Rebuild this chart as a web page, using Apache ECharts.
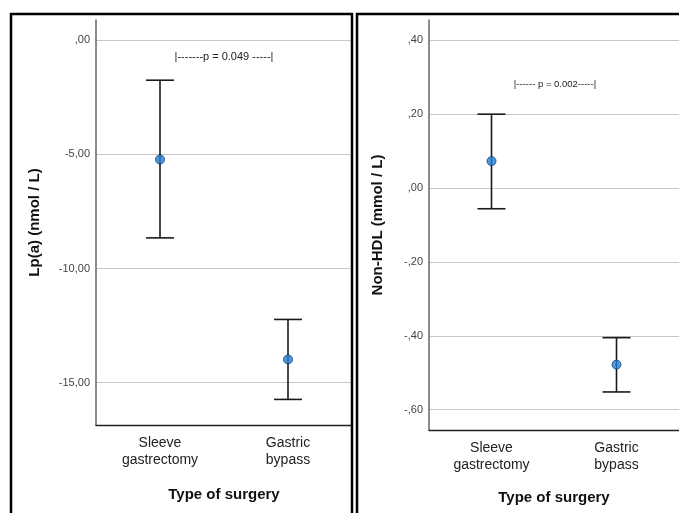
<!DOCTYPE html>
<html>
<head>
<meta charset="utf-8">
<script src="https://cdn.jsdelivr.net/npm/echarts@6/dist/echarts.min.js"></script>
<style>
  html, body { margin: 0; padding: 0; background: #fff; }
  #main { width: 679px; height: 513px; }
</style>
</head>
<body>
<div id="main"></div>
<script>
// categories
var categories = ["Sleeve\ngastrectomy", "Gastric\nbypass"];

// Lp(a) panel: mean and 95% CI per category
var lpaMean = [-5.23, -13.98];
var lpaLow = [-8.66, -15.73];
var lpaHigh = [-1.76, -12.23];
var lpaTicks = [0, -5, -10, -15];

// Non-HDL panel
var hdlMean = [0.073, -0.478];
var hdlLow = [-0.056, -0.552];
var hdlHigh = [0.20, -0.405];
var hdlTicks = [0.4, 0.2, 0, -0.2, -0.4, -0.6];

var pTexts = ["|-------p = 0.049 -----|", "|------ p = 0.002-----|"];

// SPSS style label: ",00" / "-5,00"
function spssFmt(v) {
  var s = Math.abs(v).toFixed(2).replace(".", ",");
  if (s.indexOf("0,") === 0) s = s.slice(1);
  return (v < 0 ? "-" : "") + s;
}

function errorBars(low, high) {
  return low.map(function (l, i) { return [i, l, high[i]]; });
}

function renderBar(params, api) {
  var x = api.value(0);
  var lo = api.coord([x, api.value(1)]);
  var hi = api.coord([x, api.value(2)]);
  var half = 14;
  var style = { stroke: "#1a1a1a", lineWidth: 1.6 };
  return {
    type: "group",
    children: [
      { type: "line", shape: { x1: lo[0], y1: lo[1], x2: hi[0], y2: hi[1] }, style: style },
      { type: "line", shape: { x1: lo[0] - half, y1: lo[1], x2: lo[0] + half, y2: lo[1] }, style: style },
      { type: "line", shape: { x1: hi[0] - half, y1: hi[1], x2: hi[0] + half, y2: hi[1] }, style: style }
    ]
  };
}

var fontFam = "'Liberation Sans', Arial, sans-serif";

function xAxisOf(gridIndex, gap) {
  return {
    type: "category",
    gridIndex: gridIndex,
    data: categories,
    name: "Type of surgery",
    nameLocation: "middle",
    nameGap: gap,
    nameTextStyle: { fontFamily: fontFam, fontSize: 15, fontWeight: "bold", color: "#111" },
    axisLine: { onZero: false, lineStyle: { color: "#222", width: 1.3 } },
    axisTick: { show: false },
    axisLabel: { fontFamily: fontFam, fontSize: 14, color: "#222", margin: 10, lineHeight: 17 },
    splitLine: { show: false }
  };
}

function yAxisOf(gridIndex, name, min, max, ticks, gap) {
  return {
    type: "value",
    gridIndex: gridIndex,
    min: min,
    max: max,
    name: name,
    nameLocation: "middle",
    nameGap: gap,
    nameTextStyle: { fontFamily: fontFam, fontSize: 15, fontWeight: "bold", color: "#111" },
    axisLine: { show: true, onZero: false, lineStyle: { color: "#666", width: 1.5 } },
    axisTick: { show: false, customValues: ticks },
    axisLabel: {
      customValues: ticks,
      fontFamily: fontFam, fontSize: 11, color: "#444", margin: 6,
      formatter: spssFmt
    },
    splitLine: { show: true, lineStyle: { color: "#c8c8c8", width: 1.2 } }
  };
}

var markStyle = { color: "#2080d8", borderColor: "#123f6b", borderWidth: 1 };

var option = {
  backgroundColor: "#fff",
  animation: false,
  grid: [
    { left: 96, top: 20, width: 256, height: 405 },
    { left: 429, top: 20, width: 250, height: 410 }
  ],
  xAxis: [xAxisOf(0, 62), xAxisOf(1, 60)],
  yAxis: [
    yAxisOf(0, "Lp(a) (nmol / L)", -16.85, 0.875, lpaTicks, 54),
    yAxisOf(1, "Non-HDL (mmol / L)", -0.655, 0.455, hdlTicks, 44)
  ],
  graphic: [
    { type: "rect", shape: { x: 11, y: 14, width: 341, height: 520 }, style: { fill: null, stroke: "#000", lineWidth: 2.5 }, z: 100 },
    { type: "rect", shape: { x: 357, y: 14, width: 340, height: 520 }, style: { fill: null, stroke: "#000", lineWidth: 2.5 }, z: 100 },
    { type: "text", x: 224, y: 57, style: { text: pTexts[0], fontFamily: fontFam, fontSize: 11, fill: "#222", align: "center", verticalAlign: "middle" } },
    { type: "text", x: 555, y: 84, style: { text: pTexts[1], fontFamily: fontFam, fontSize: 9.5, fill: "#222", align: "center", verticalAlign: "middle" } }
  ],
  series: [
    { type: "custom", xAxisIndex: 0, yAxisIndex: 0, renderItem: renderBar, data: errorBars(lpaLow, lpaHigh), z: 2 },
    { type: "scatter", xAxisIndex: 0, yAxisIndex: 0, data: lpaMean, symbolSize: 9, itemStyle: markStyle, z: 3 },
    { type: "custom", xAxisIndex: 1, yAxisIndex: 1, renderItem: renderBar, data: errorBars(hdlLow, hdlHigh), z: 2 },
    { type: "scatter", xAxisIndex: 1, yAxisIndex: 1, data: hdlMean, symbolSize: 9, itemStyle: markStyle, z: 3 }
  ]
};

var myChart = echarts.init(document.getElementById("main"));
myChart.setOption(option);
window.addEventListener("resize", function () { myChart.resize(); });
</script>
</body>
</html>
